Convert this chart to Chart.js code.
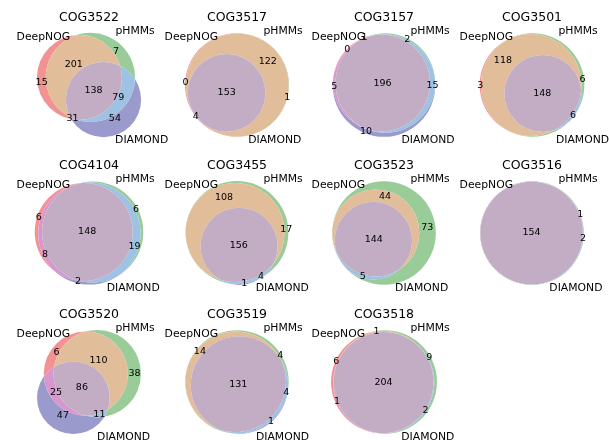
<!DOCTYPE html>
<html>
<head>
<meta charset="utf-8">
<script src="https://cdn.jsdelivr.net/npm/chart.js@4.4.0/dist/chart.umd.min.js"></script>
<style>
  html, body { margin: 0; padding: 0; background: #fff; }
  #wrap { position: relative; width: 609px; height: 440px; overflow: hidden; }
  #wrap canvas { position: absolute; }
</style>
</head>
<body>
<div id="wrap"></div>
<script>
// sets: A = DeepNOG, B = pHMMs, C = DIAMOND
const setNames = ["DeepNOG", "pHMMs", "DIAMOND"];
// fill of each region as it looks on white: A, B, AB, C, AC, BC, ABC
const regionColors = ["#f29292", "#99cc99", "#e2bd99", "#9a9acd", "#d898cf", "#9ec2e3", "#c3adc5"];

const titles = ["COG3522", "COG3517", "COG3157", "COG3501", "COG4104", "COG3455",
                "COG3523", "COG3516", "COG3520", "COG3519", "COG3518"];

// region sizes, order: A only, B only, AB, C only, AC, BC, ABC
const cog3522 = [15, 7, 201, 54, 31, 79, 138];
const cog3517 = [0, 1, 122, 0, 4, 0, 153];
const cog3157 = [0, 2, 1, 10, 5, 15, 196];
const cog3501 = [3, 6, 118, 0, 0, 6, 148];
const cog4104 = [6, 6, 0, 2, 8, 19, 148];
const cog3455 = [0, 17, 108, 1, 0, 4, 156];
const cog3523 = [0, 73, 44, 0, 0, 5, 144];
const cog3516 = [0, 1, 0, 0, 0, 2, 154];
const cog3520 = [6, 38, 110, 47, 25, 11, 86];
const cog3519 = [0, 4, 14, 1, 0, 4, 131];
const cog3518 = [6, 9, 1, 0, 1, 2, 204];
const subsets = [cog3522, cog3517, cog3157, cog3501, cog4104, cog3455,
                 cog3523, cog3516, cog3520, cog3519, cog3518];

// --- venn geometry (area proportional circles) ---
function lensArea(r1, r2, d) {
  if (d >= r1 + r2) return 0;
  if (d <= Math.abs(r1 - r2)) return Math.PI * Math.min(r1, r2) ** 2;
  const a = Math.acos((d * d + r1 * r1 - r2 * r2) / (2 * d * r1));
  const b = Math.acos((d * d + r2 * r2 - r1 * r1) / (2 * d * r2));
  return r1 * r1 * a + r2 * r2 * b - 0.5 * (r1 * r1 * Math.sin(2 * a) + r2 * r2 * Math.sin(2 * b));
}

function distForArea(r1, r2, area) {
  const r = Math.min(r1, r2), R = Math.max(r1, r2);
  if (Math.abs(area) < 1e-10) return r + R;
  if (Math.abs(Math.PI * r * r - area) < 1e-10) return Math.abs(R - r + 0.0001 * r);
  let lo = R - r, hi = R + r;
  for (let i = 0; i < 100; i++) {
    const mid = (lo + hi) / 2;
    if (lensArea(r, R, mid) > area) lo = mid; else hi = mid;
  }
  return (lo + hi) / 2;
}

function layoutVenn(s) {
  const total = s.reduce((a, b) => a + b, 0);
  const v = s.map(x => x / total);
  const areaA = v[0] + v[2] + v[4] + v[6];
  const areaB = v[1] + v[2] + v[5] + v[6];
  const areaC = v[3] + v[4] + v[5] + v[6];
  const r = [areaA, areaB, areaC].map(a => Math.sqrt(a / Math.PI));
  const d = [distForArea(r[0], r[1], v[2] + v[6]),
             distForArea(r[1], r[2], v[5] + v[6]),
             distForArea(r[2], r[0], v[4] + v[6])];
  for (let i = 0; i < 3; i++) {
    const j = (i + 1) % 3, k = (i + 2) % 3;
    if (d[i] > d[j] + d[k]) {
      const [a, b] = d[j] < d[k] ? [j, k] : [k, j];
      d[i] = d[b] + d[a] * 0.8;
    }
  }
  const [dab, dbc, dac] = d;
  const cx = Math.abs(dab) > 1e-10 ? (dac * dac - dbc * dbc + dab * dab) / (2 * dab) : 0;
  const cy = -Math.sqrt(Math.max(0, dac * dac - cx * cx));
  let c = [[0, 0], [dab, 0], [cx, cy]];
  const w = r.map(x => x * x), sw = w[0] + w[1] + w[2];
  const mx = (w[0] * c[0][0] + w[1] * c[1][0] + w[2] * c[2][0]) / sw;
  const my = (w[0] * c[0][1] + w[1] * c[1][1] + w[2] * c[2][1]) / sw;
  c = c.map(p => [p[0] - mx, p[1] - my]);
  return { c, r };
}

// label point of each region: centroid, or the deepest point if centroid falls outside
function regionLabels(geo, s, box) {
  const N = 320;
  const acc = [];
  for (let i = 0; i < 7; i++) acc.push({ n: 0, sx: 0, sy: 0, pts: [] });
  const stepX = (box.x1 - box.x0) / N, stepY = (box.y1 - box.y0) / N;
  for (let i = 0; i < N; i++) {
    for (let j = 0; j < N; j++) {
      const x = box.x0 + (i + 0.5) * stepX, y = box.y0 + (j + 0.5) * stepY;
      let code = 0, depth = Infinity;
      for (let k = 0; k < 3; k++) {
        const dd = Math.hypot(x - geo.c[k][0], y - geo.c[k][1]);
        if (dd < geo.r[k]) code |= 1 << k;
        depth = Math.min(depth, Math.abs(dd - geo.r[k]));
      }
      if (!code) continue;
      const a = acc[code - 1];
      a.n++; a.sx += x; a.sy += y; a.pts.push([x, y, depth]);
    }
  }
  const cellArea = stepX * stepY;
  const out = [];
  acc.forEach((a, idx) => {
    if (a.n === 0) return;
    if (s[idx] === 0 && a.n * cellArea < 2e-4) return;
    const gx = a.sx / a.n, gy = a.sy / a.n;
    let code = 0;
    for (let k = 0; k < 3; k++) if (Math.hypot(gx - geo.c[k][0], gy - geo.c[k][1]) < geo.r[k]) code |= 1 << k;
    let p = [gx, gy];
    if (code !== idx + 1) {
      let best = -1;
      a.pts.forEach(q => {
        const score = q[2] - 1e-3 * Math.hypot(q[0] - gx, q[1] - gy);
        if (score > best) { best = score; p = [q[0], q[1]]; }
      });
    }
    out.push({ x: p[0], y: p[1], text: String(s[idx]) });
  });
  return out;
}

const vennPlugin = {
  id: "venn",
  beforeDatasetsDraw(chart) {
    const { ctx, scales: { x, y } } = chart;
    const geo = chart.options.plugins.venn.geo;
    const pc = geo.c.map(p => [x.getPixelForValue(p[0]), y.getPixelForValue(p[1])]);
    const pr = geo.r.map(r => x.getPixelForValue(r) - x.getPixelForValue(0));
    const W = chart.width, H = chart.height;
    for (let code = 1; code <= 7; code++) {
      ctx.save();
      for (let k = 0; k < 3; k++) {
        ctx.beginPath();
        if (code & (1 << k)) {
          ctx.arc(pc[k][0], pc[k][1], pr[k], 0, 2 * Math.PI);
          ctx.clip();
        } else {
          ctx.rect(-5, -5, W + 10, H + 10);
          ctx.arc(pc[k][0], pc[k][1], pr[k], 0, 2 * Math.PI, true);
          ctx.clip("evenodd");
        }
      }
      ctx.fillStyle = regionColors[code - 1];
      ctx.fillRect(0, 0, W, H);
      ctx.restore();
    }
  },
  afterDatasetsDraw(chart) {
    const { ctx, chartArea, scales: { x } } = chart;
    const opts = chart.options.plugins.venn;
    const meta = chart.getDatasetMeta(0);
    ctx.save();
    ctx.fillStyle = "#000";
    ctx.font = '9.5px "DejaVu Sans"';
    ctx.textAlign = "center";
    ctx.textBaseline = "middle";
    meta.data.forEach((pt, i) => {
      ctx.fillText(chart.data.datasets[0].data[i].text, pt.x, pt.y);
    });
    const mx = (chartArea.left + chartArea.right) / 2;
    const my = (chartArea.top + chartArea.bottom) / 2;
    const cxC = x.getPixelForValue(opts.geo.c[2][0]);
    ctx.font = '10.8px "DejaVu Sans"';
    ctx.textBaseline = "alphabetic";
    ctx.textAlign = "right";
    ctx.fillText(setNames[0], mx - 19, my - 45);
    ctx.textAlign = "left";
    ctx.fillText(setNames[1], mx + 26.5, my - 51);
    ctx.textAlign = "center";
    ctx.fillText(setNames[2], mx + 44 + 0.6 * (cxC - mx), my + 57.5);
    ctx.restore();
  }
};

const wrap = document.getElementById("wrap");
const CW = 190, CH = 140, cellW = 140, cellH = 122;

titles.forEach((title, idx) => {
  const s = subsets[idx];
  const geo = layoutVenn(s);
  const box = {
    x0: Math.min(...geo.c.map((p, i) => p[0] - geo.r[i])) - 0.1,
    x1: Math.max(...geo.c.map((p, i) => p[0] + geo.r[i])) + 0.1,
    y0: Math.min(...geo.c.map((p, i) => p[1] - geo.r[i])) - 0.1,
    y1: Math.max(...geo.c.map((p, i) => p[1] + geo.r[i])) + 0.1
  };
  const k = Math.min(cellW / (box.x1 - box.x0), cellH / (box.y1 - box.y0));
  const boxW = (box.x1 - box.x0) * k, boxH = (box.y1 - box.y0) * k;
  const labels = regionLabels(geo, s, box);

  const col = idx % 4, row = Math.floor(idx / 4);
  const cellX = 89 + 147.7 * col, cellY = 85 + 148.25 * row;
  const canvas = document.createElement("canvas");
  canvas.width = CW; canvas.height = CH;
  canvas.style.left = (cellX - CW / 2) + "px";
  canvas.style.top = (cellY - 75) + "px";
  wrap.appendChild(canvas);

  new Chart(canvas.getContext("2d"), {
    type: "scatter",
    data: { datasets: [{ data: labels, pointRadius: 0, pointHoverRadius: 0 }] },
    options: {
      responsive: false,
      animation: false,
      events: [],
      layout: { padding: { left: (CW - boxW) / 2, right: (CW - boxW) / 2, top: 0, bottom: CH - 75 - boxH / 2 } },
      scales: {
        x: { type: "linear", min: box.x0, max: box.x1, display: false },
        y: { type: "linear", min: box.y0, max: box.y1, display: false }
      },
      plugins: {
        legend: { display: false },
        tooltip: { enabled: false },
        title: {
          display: true,
          text: title,
          color: "#000",
          font: { family: "DejaVu Sans", size: 12.5, weight: "normal", lineHeight: 1 },
          padding: { top: 1.4, bottom: 61.1 - boxH / 2 }
        },
        venn: { geo }
      }
    },
    plugins: [vennPlugin]
  });
});
</script>
</body>
</html>
